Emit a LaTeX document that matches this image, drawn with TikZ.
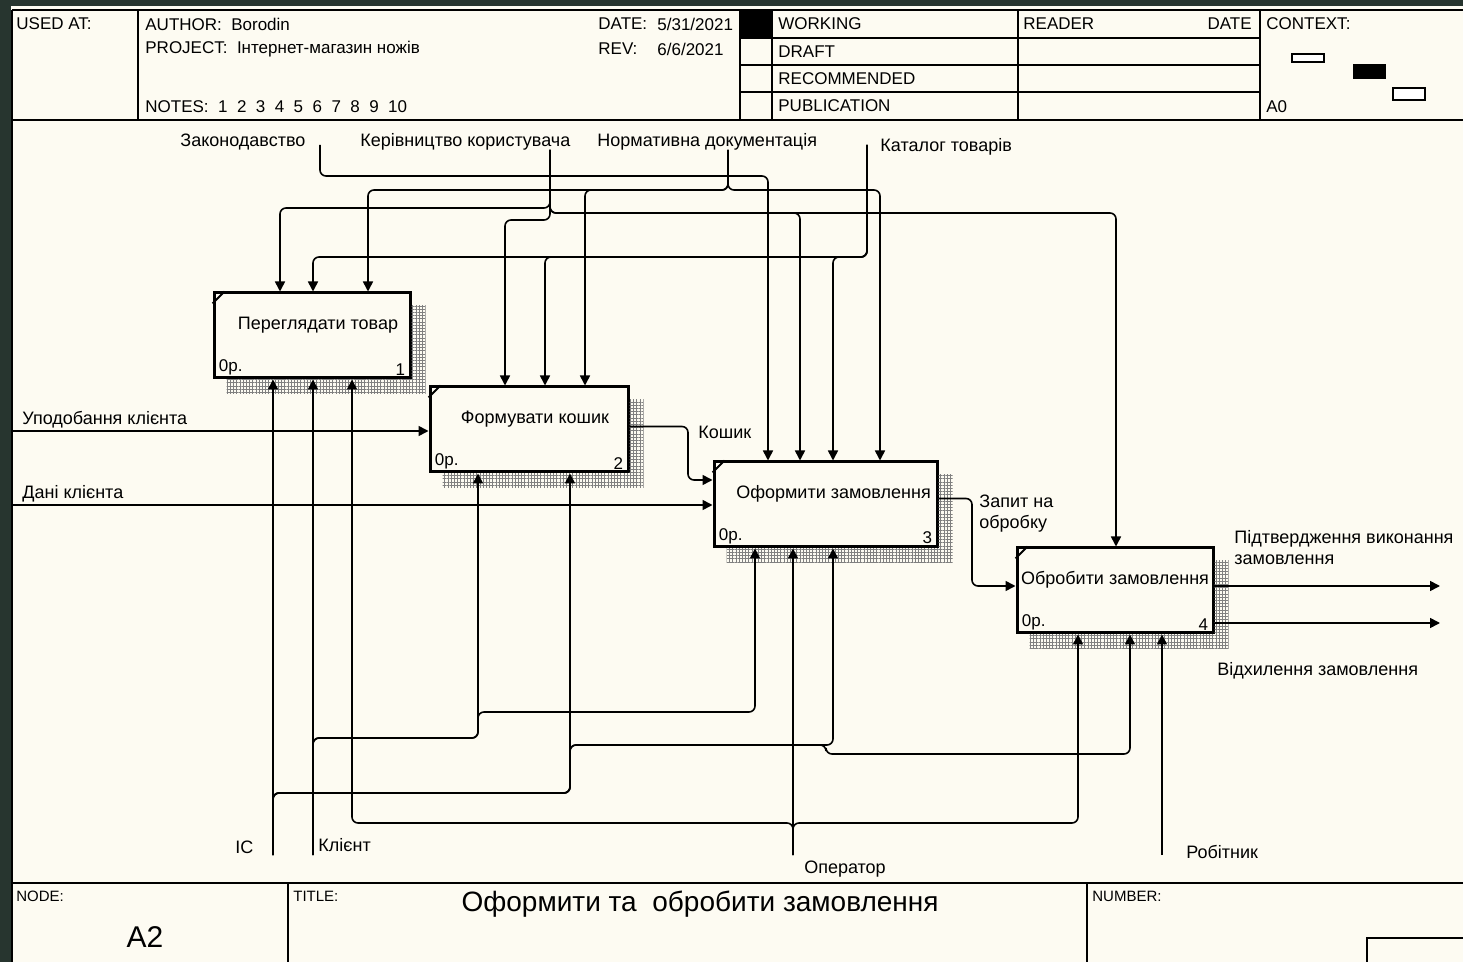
\documentclass[tikz,border=0pt]{standalone}
\usepackage{fontspec}
\setmainfont{Liberation Sans}
\usetikzlibrary{arrows.meta, patterns.meta}
\definecolor{paper}{HTML}{FDFBF2}
\definecolor{edge}{HTML}{27352F}

\begin{document}
\begin{tikzpicture}[x=0.5pt,y=-0.5pt,
		lbl/.style = {font=\fontsize{9}{10.5}\selectfont, inner sep=0pt, anchor=west},
		hdr/.style = {font=\fontsize{8.5}{10}\selectfont, inner sep=0pt, anchor=west},
		box/.style = {draw, line width=1.5pt, minimum height=42.5pt, inner sep=0pt,
			font=\fontsize{9}{10}\selectfont, text height=6pt, text depth=11.5pt},
		num/.style = {font=\fontsize{8.5}{10}\selectfont, inner xsep=3pt, inner ysep=2pt},
		arr/.style = {line width=0.8pt, rounded corners=3pt, -{Triangle[length=5pt,width=5pt]}},
		rule/.style = {line width=0.75pt},
		shade/.style = {pattern={Hatch[distance=1.6pt,line width=0.45pt]}, pattern color=gray}]
	\useasboundingbox (0,0) rectangle (1463,962);
	\fill[edge] (0,0) rectangle (1463,962);
	\fill[paper] (11,6) rectangle (1463,962);
	
	% header
	\draw[rule] (12,10) -- (1463,10) (12,10) -- (12,962) (12,120) -- (1463,120);
	\foreach \x in {138,740,772,1018,1260}
		\draw[rule] (\x,10) -- (\x,120);
	\foreach \y in {38,65,92}
		\draw[rule] (740,\y) -- (1260,\y);
	\fill (740,10) rectangle (772,38);
	\node[hdr] (usedat) at (16,24) {USED AT:};
	\node[hdr] (author) at (145,24) {AUTHOR:\ \ Borodin};
	\node[hdr] (project) at (145,49) {PROJECT:\ \ Інтернет-магазин ножів};
	\node[hdr] (notes) at (145,107) {NOTES:\ \ 1\ \ 2\ \ 3\ \ 4\ \ 5\ \ 6\ \ 7\ \ 8\ \ 9\ \ 10};
	\node[hdr] (date) at (598,24) {DATE:};
	\node[hdr] (dateval) at (657,24) {5/31/2021};
	\node[hdr] (rev) at (598,49) {REV:};
	\node[hdr] (revval) at (657,49) {6/6/2021};
	\node[hdr] (working) at (778,24) {WORKING};
	\node[hdr] (draft) at (778,52) {DRAFT};
	\node[hdr] (recom) at (778,79) {RECOMMENDED};
	\node[hdr] (public) at (778,106) {PUBLICATION};
	\node[hdr] (reader) at (1023,24) {READER};
	\node[hdr, anchor=east] (rdate) at (1252,24) {DATE};
	\node[hdr] (context) at (1266,24) {CONTEXT:};
	\node[hdr] (ctxnode) at (1266,107) {A0};
	\draw[line width=0.6pt, fill=white] (1292,54) rectangle (1324,62);
	\fill (1353,64) rectangle (1386,79);
	\draw[line width=0.6pt, fill=white] (1393,88) rectangle (1425,100);
	
	% footer
	\draw[line width=1pt] (12,883) -- (1463,883);
	\draw[rule] (288,883) -- (288,962) (1087,883) -- (1087,962);
	\draw[rule] (1367,962) |- (1463,938);
	\node[hdr, font=\fontsize{7.5}{9}\selectfont] (nodelbl) at (16,896) {NODE:};
	\node[hdr, font=\fontsize{7.5}{9}\selectfont] (titlelbl) at (293,896) {TITLE:};
	\node[hdr, font=\fontsize{7.5}{9}\selectfont] (numlbl) at (1092,896) {NUMBER:};
	\node[inner sep=0pt, font=\fontsize{15}{18}\selectfont] (nodenum) at (145,937) {A2};
	\node[inner sep=0pt, font=\fontsize{14}{17}\selectfont] (title) at (700,904) {Оформити та\ \ обробити замовлення};
	
	% activities
	\node[box, minimum width=98pt,
		label={[num,anchor=south west]south west:0р.},
		label={[num,anchor=south east]south east:1}] (b1) at (312,335.5) {\hspace*{6pt}Переглядати товар};
	\node[box, minimum width=99pt,
		label={[num,anchor=south west]south west:0р.},
		label={[num,anchor=south east]south east:2}] (b2) at (529,429.5) {\hspace*{6pt}Формувати кошик};
	\node[box, minimum width=111.5pt,
		label={[num,anchor=south west]south west:0р.},
		label={[num,anchor=south east]south east:3}] (b3) at (825.5,504.5) {\hspace*{8pt}Оформити замовлення};
	\node[box, minimum width=98pt,
		label={[num,anchor=south west]south west:0р.},
		label={[num,anchor=south east]south east:4}] (b4) at (1115,590.5) {Обробити замовлення};
	\foreach \b in {b1,b2,b3,b4} {
		\fill[shade] ([yshift=-7pt]\b.north east) rectangle ([xshift=7pt,yshift=-7pt]\b.south east);
		\fill[shade] ([xshift=7pt]\b.south west) rectangle ([yshift=-7pt]\b.south east);
		\draw[line width=1pt] ([yshift=-6pt]\b.north west) -- ([xshift=6pt]\b.north west);
	}
	
	% controls
	\coordinate (zak) at (320,145);
	\coordinate (ker) at (550,150);
	\coordinate (nor) at (728,150);
	\coordinate (kat) at (867,145);
	\draw[arr] (zak) |- (768,176) -- (768,176 |- b3.north);
	\draw[arr] (ker) |- (280,208) -- (280,208 |- b1.north);
	\draw[arr] (ker) |- (505,220) -- (505,220 |- b2.north);
	\draw[arr] (ker) |- (800,213) -- (800,213 |- b3.north);
	\draw[arr] (ker) |- (1116,213) -- (1116,213 |- b4.north);
	\draw[arr] (nor) |- (368,190) -- (368,190 |- b1.north);
	\draw[arr] (nor) |- (585,190) -- (585,190 |- b2.north);
	\draw[arr] (nor) |- (880,190) -- (880,190 |- b3.north);
	\draw[arr] (kat) |- (313,257) -- (313,257 |- b1.north);
	\draw[arr] (kat) |- (545,257) -- (545,257 |- b2.north);
	\draw[arr] (kat) |- (833,257) -- (833,257 |- b3.north);
	\node[lbl] (zaklbl) at (180,142) {Законодавство};
	\node[lbl] (kerlbl) at (360,142) {Керівництво користувача};
	\node[lbl] (norlbl) at (597,142) {Нормативна документація};
	\node[lbl] (katlbl) at (880,147) {Каталог товарів};
	
	% inputs and outputs
	\coordinate (upod) at (12,431);
	\coordinate (dani) at (12,505);
	\coordinate (pidt) at (1440,586);
	\coordinate (vidh) at (1440,623);
	\draw[arr] (upod) -- (upod -| b2.west);
	\draw[arr] (dani) -- (dani -| b3.west);
	\draw[arr] ([yshift=1.5pt]b2.east) -| (688,480) -- (688,480 -| b3.west);
	\draw[arr] ([yshift=3pt]b3.east) -| (972,586) -- (972,586 -| b4.west);
	\draw[arr] (pidt -| b4.east) -- (pidt);
	\draw[arr] (vidh -| b4.east) -- (vidh);
	\node[lbl] (upodlbl) at (22,420) {Уподобання клієнта};
	\node[lbl] (danilbl) at (22,494) {Дані клієнта};
	\node[lbl] (koshlbl) at (698,432) {Кошик};
	\node[lbl, align=left] (zapytlbl) at (979,514) {Запит на\\обробку};
	\node[lbl, align=left] (pidtlbl) at (1234,548) {Підтвердження виконання\\замовлення};
	\node[lbl] (vidhlbl) at (1217,671) {Відхилення замовлення};
	
	% mechanisms
	\coordinate (ic) at (273,855);
	\coordinate (kl) at (313,855);
	\coordinate (op) at (793,855);
	\coordinate (rob) at (1162,855);
	\draw[arr] (ic) -- (ic |- b1.south);
	\draw[arr] (ic) |- (570,793) -- (570,793 |- b2.south);
	\draw[arr] (ic) |- (570,793) |- (833,745) -- (833,745 |- b3.south);
	\draw[arr] (ic) |- (570,793) |- (826,745) |- (1130,754) -- (1130,754 |- b4.south);
	\draw[arr] (kl) -- (kl |- b1.south);
	\draw[arr] (kl) |- (478,738) -- (478,738 |- b2.south);
	\draw[arr] (kl) |- (478,738) |- (755,712) -- (755,712 |- b3.south);
	\draw[arr] (op) -- (op |- b3.south);
	\draw[arr] (op) |- (352,823) -- (352,823 |- b1.south);
	\draw[arr] (op) |- (1078,823) -- (1078,823 |- b4.south);
	\draw[arr] (rob) -- (rob |- b4.south);
	\node[lbl] (iclbl) at (235,847) {IC};
	\node[lbl] (kllbl) at (318,845) {Клієнт};
	\node[lbl, anchor=center] (oplbl) at (845,869) {Оператор};
	\node[lbl] (roblbl) at (1186,852) {Робітник};
\end{tikzpicture}
\end{document}
